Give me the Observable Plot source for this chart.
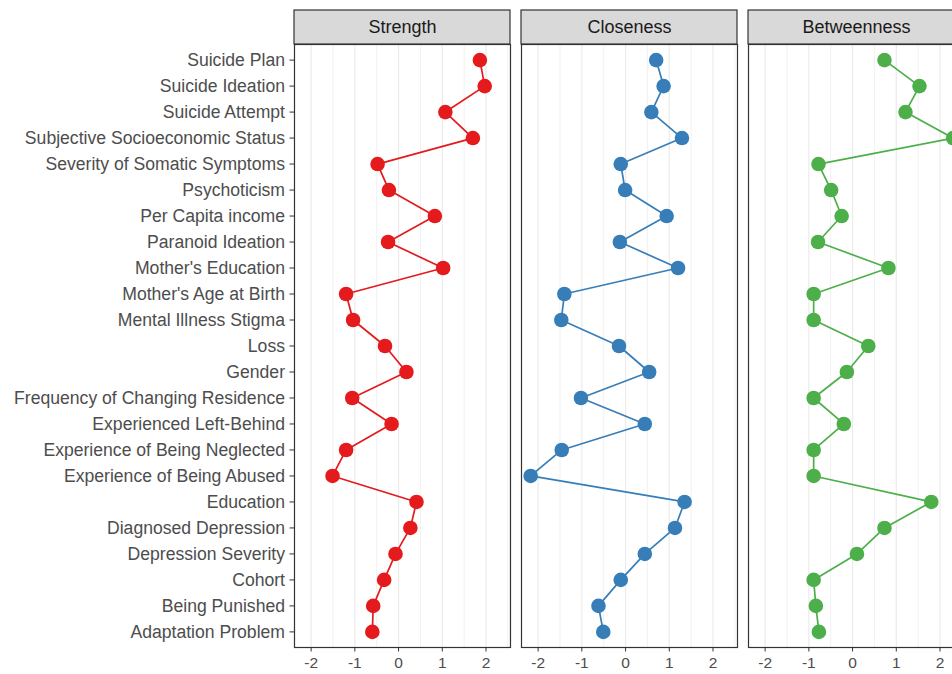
<!DOCTYPE html>
<html><head><meta charset="utf-8">
<script src="https://cdn.jsdelivr.net/npm/d3@7"></script>
<script src="https://cdn.jsdelivr.net/npm/@observablehq/plot@0.6"></script>
<style>html,body{margin:0;padding:0;background:#fff;overflow:hidden} svg{max-width:none !important}</style>
</head><body><div id="chart"></div>
<script>
const nodes = ["Suicide Plan","Suicide Ideation","Suicide Attempt","Subjective Socioeconomic Status","Severity of Somatic Symptoms","Psychoticism","Per Capita income","Paranoid Ideation","Mother's Education","Mother's Age at Birth","Mental Illness Stigma","Loss","Gender","Frequency of Changing Residence","Experienced Left-Behind","Experience of Being Neglected","Experience of Being Abused","Education","Diagnosed Depression","Depression Severity","Cohort","Being Punished","Adaptation Problem"];
const metrics = ["Strength","Closeness","Betweenness"];
const strength    = [1.86, 1.97, 1.07, 1.70, -0.48, -0.22, 0.83, -0.24, 1.02, -1.20, -1.04, -0.31, 0.18, -1.06, -0.16, -1.20, -1.51, 0.41, 0.27, -0.07, -0.33, -0.58, -0.60];
const closeness   = [0.70, 0.87, 0.59, 1.29, -0.11, -0.01, 0.94, -0.13, 1.20, -1.40, -1.47, -0.15, 0.54, -1.02, 0.44, -1.46, -2.17, 1.35, 1.13, 0.44, -0.11, -0.62, -0.51];
const betweenness = [0.73, 1.53, 1.21, 2.30, -0.78, -0.49, -0.25, -0.79, 0.82, -0.89, -0.89, 0.36, -0.13, -0.89, -0.20, -0.89, -0.89, 1.80, 0.73, 0.10, -0.89, -0.84, -0.77];
const colors = ["#E41A1C","#377EB8","#4DAF4A"];
const xTicks = [-2,-1,0,1,2];
const minorTicks = [-1.5,-0.5,0.5,1.5,2.5];

const series = [strength, closeness, betweenness];
const data = metrics.flatMap((m,i)=> nodes.map((n,j)=>({metric:m, node:n, value:series[i][j]})));
const strips = metrics.map(m=>({metric:m}));
const xDomain = [-2.38, 2.56];
const W = 968, H = 674, mT = 44, mB = 27;

const chart = Plot.plot({
  width: W, height: H, marginLeft: 294, marginRight: 4, marginTop: mT, marginBottom: mB,
  style: {fontFamily: "'Liberation Sans', Arial, sans-serif", background: "white", maxWidth: "none"},
  fx: {domain: metrics, paddingInner: 0.0485, paddingOuter: 0, round: false, axis: null, label: null},
  x: {domain: xDomain, label: null},
  y: {type: "point", domain: nodes, padding: 0.6, round: false, label: null},
  color: {domain: metrics, range: colors},
  marks: [
    Plot.gridX(minorTicks, {stroke: "#ebebeb", strokeOpacity: 1, strokeWidth: 0.7}),
    Plot.gridX(xTicks, {stroke: "#ebebeb", strokeOpacity: 1, strokeWidth: 1.2}),
    Plot.line(data, {fx: "metric", x: "value", y: "node", stroke: "metric", strokeWidth: 1.7}),
    Plot.dot(data, {fx: "metric", x: "value", y: "node", fill: "metric", r: 7.3, stroke: null}),
    Plot.frame({stroke: "#333333", strokeWidth: 1.2}),
    Plot.rect(strips, {fx: "metric", x1: () => xDomain[0], x2: () => xDomain[1], fill: "#d9d9d9", stroke: "#333333", strokeWidth: 1.2, insetTop: -34, insetBottom: H - mT - mB}),
    Plot.text(strips, {fx: "metric", text: "metric", frameAnchor: "top", lineAnchor: "middle", dy: -17, fontSize: 18, fill: "#1a1a1a"}),
    Plot.axisY({tickSize: 4.5, tickPadding: 5, fontSize: 17.6, fill: "#4d4d4d", stroke: "#333333"}),
    Plot.axisX({ticks: xTicks, tickSize: 4.5, tickPadding: 5, fontSize: 15.5, fill: "#4d4d4d", stroke: "#333333", tickFormat: d => String(d)})
  ]
});
document.getElementById("chart").appendChild(chart);
</script>
</body></html>
